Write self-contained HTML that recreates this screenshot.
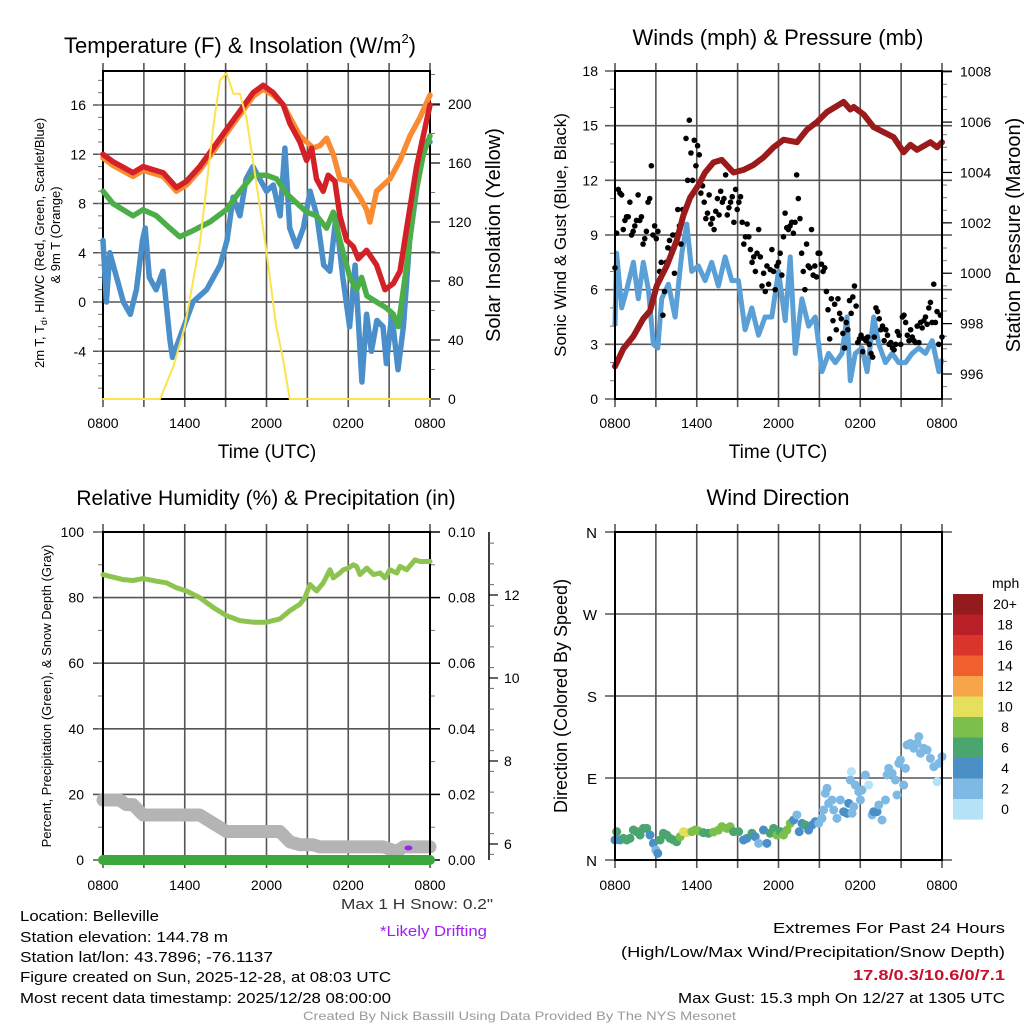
<!DOCTYPE html>
<html><head><meta charset="utf-8"><style>
html,body{margin:0;padding:0;background:#fff;}
svg{display:block;font-family:"Liberation Sans",sans-serif;}
</style></head><body>
<svg id="fig" width="1024" height="1024" viewBox="0 0 1024 1024" xmlns="http://www.w3.org/2000/svg">
<g id="layer"></g>
<g font-size="15" fill="#000">
<text x="20" y="921" textLength="139" lengthAdjust="spacingAndGlyphs">Location: Belleville</text>
<text x="20" y="942" textLength="208" lengthAdjust="spacingAndGlyphs">Station elevation: 144.78 m</text>
<text x="20" y="962" textLength="253" lengthAdjust="spacingAndGlyphs">Station lat/lon: 43.7896; -76.1137</text>
<text x="20" y="982" textLength="371" lengthAdjust="spacingAndGlyphs">Figure created on Sun, 2025-12-28, at 08:03 UTC</text>
<text x="20" y="1003" textLength="371" lengthAdjust="spacingAndGlyphs">Most recent data timestamp: 2025/12/28 08:00:00</text>
<text x="341" y="909" textLength="152" lengthAdjust="spacingAndGlyphs" fill="#333">Max 1 H Snow: 0.2"</text>
<text x="380" y="936" textLength="107" lengthAdjust="spacingAndGlyphs" fill="#a020f0">*Likely Drifting</text>
<text x="773" y="933" textLength="232" lengthAdjust="spacingAndGlyphs">Extremes For Past 24 Hours</text>
<text x="621" y="957" textLength="384" lengthAdjust="spacingAndGlyphs">(High/Low/Max Wind/Precipitation/Snow Depth)</text>
<text x="853" y="980" textLength="152" lengthAdjust="spacingAndGlyphs" fill="#c8102e" font-weight="bold">17.8/0.3/10.6/0/7.1</text>
<text x="678" y="1003" textLength="327" lengthAdjust="spacingAndGlyphs">Max Gust: 15.3 mph On 12/27 at 1305 UTC</text>
<text x="303" y="1020" font-size="12" textLength="433" lengthAdjust="spacingAndGlyphs" fill="#999">Created By Nick Bassill Using Data Provided By The NYS Mesonet</text>
</g>
</svg>
<script>
// ---------- DATA ----------
const tempT = [0,0.73,2.2,2.94,4.41,5.39,6.12,7.1,8.08,9.06,10.04,11.02,11.76,12.49,13.23,13.72,14.45,14.94,15.31,15.67,16.16,16.53,17.02,17.39,17.88,18.37,18.74,19.35,20.08,20.7,21.31,21.8,22.29,23.02,24];
const tempV = [12,11.4,10.5,11,10.5,9.3,9.8,11,12.5,14,15.5,17,17.6,17,16,14.5,13,11.5,12.5,10,9,10.3,9.8,7,5,4.5,3.5,4.2,3,1,1.5,2.5,6,11,16];
const t9T = [0,0.73,2.2,2.94,4.41,5.39,6.12,7.1,8.08,9.06,10.04,11.02,11.76,12.49,13.23,13.72,14.45,14.94,15.43,15.92,16.41,16.9,17.39,18.12,18.86,19.35,19.59,20.08,20.57,21.06,21.8,22.53,23.27,24];
const t9V = [11.7,11.1,10.2,10.7,10.2,9,9.5,10.7,12.2,13.7,15.2,16.7,17.3,16.8,16,15,13.5,13,12.5,12.7,13.3,12,10,9.8,8.5,7.5,6.5,9,9.5,10,11.5,13.5,15,16.8];
const dewT = [0,0.73,2.2,2.94,3.92,4.9,5.63,6.61,7.84,9.06,10.04,11.02,12,12.74,13.47,14.45,14.94,15.67,16.41,16.9,17.39,18.12,18.61,18.98,19.36,20.08,20.82,21.31,21.67,22.29,22.9,23.51,24];
const dewV = [9,8,7,7.5,7,6,5.3,5.8,6.5,7.5,9,10.3,10.3,10,8.8,7.8,7.3,7,6,7.3,5,2,1,2,0.5,0,-0.5,-1,-2,3,8.5,12,13.5];
const wcT = [0,0.25,0.5,1,1.5,2,2.45,2.9,3.1,3.4,3.9,4.4,4.9,5.1,5.6,6.1,6.6,7.1,7.6,8.1,8.6,9.1,9.55,10.05,10.5,11,11.5,12,12.5,13,13.35,13.7,14.2,14.7,15.2,15.7,16.2,16.65,17.1,17.6,18.1,18.5,19,19.35,19.7,20.1,20.55,20.8,21.2,21.65,22.05,22.5,23,23.4,24];
const wcV = [5,0,4,2,0,-1,1,5,6,2,1,2.5,-3,-4.5,-3,-1.5,0,0.5,1,2,3,5,8.5,7,10,11,10,9,9.5,7,12.5,6,4.5,6,9,7,3,2.5,7,2,-2,3,-6.5,-1,-4,-1.5,-2,-5,-1,-5.5,-2,5,9,13,13];
const solarT = [0,4.18,5.16,6,7.12,8.1,8.58,9.07,9.56,10.05,10.54,11.03,11.76,12,12.7,13.2,13.7,24];
const solarV = [0,0,22,49,106,185,216,221,207,207,190,160,115,100,50,28,0,0];
const presT = [0,0.61,1.35,2.08,2.57,3.06,3.8,4.53,5.02,5.51,6.12,6.61,7.23,7.84,8.7,9.43,10.17,10.9,11.64,12.37,13.35,14.09,14.82,15.56,16.78,17.27,17.52,18.25,18.98,19.72,20.45,21.19,21.68,22.17,23.15,23.64,24];
const presV = [996.3,997,997.5,998.2,998.5,999.5,1000.3,1001.3,1002.3,1003,1003.5,1004,1004.4,1004.5,1004,1004.1,1004.3,1004.6,1005,1005.3,1005.2,1005.7,1006,1006.4,1006.8,1006.5,1006.6,1006.3,1005.8,1005.6,1005.4,1004.8,1005.1,1004.9,1005.2,1005,1005.2];
const sonicT = [0,0.12,0.49,0.86,1.35,1.71,2.08,2.45,2.82,3.14,3.43,3.92,4.41,4.9,5.27,5.63,6.12,6.61,7.1,7.59,8.08,8.57,9.06,9.55,10.04,10.53,11.02,11.51,12,12.49,12.86,13.23,13.72,14.21,14.7,15.19,15.68,16.17,16.66,17.03,17.27,17.64,18.13,18.5,18.99,19.36,19.85,20.34,20.83,21.32,21.81,22.3,22.79,23.28,23.77,24];
const sonicV = [4,8,5,6,7.5,5.5,7.5,6,3,2.8,5.5,6.3,4.5,8,9.6,7,7.3,6.5,7.5,6.2,7.8,6.5,6.5,3.8,5,3.5,4.5,4.5,7,4.3,7.8,2.5,5.5,4,4.5,1.5,2.5,2,2.5,4.5,1,2.5,2.8,1.5,4.5,3,2,2.5,2,2,2.5,2.8,2.5,3.2,1.5,2.2];
const gustV = [7.2,9.1,11.5,11.3,11.2,9.3,9.8,10,10,10.8,9,9.2,9.5,9.8,11.2,9.8,10,8.5,8.8,9.2,10.8,11,12.8,9,9.5,8.8,9.2,7,7.5,4.6,5.9,7.5,8.3,8.7,8.2,9,6.9,9,10.4,9.5,8.5,10.4,10.2,14.3,12,15.3,13.5,12,14.2,12.8,13.9,13.4,11.3,11.7,10.8,9.9,10.2,11.2,9.6,9.9,9.3,10.3,11,10.1,11.4,10.8,11,12.3,10.1,10.5,10.8,11.1,9.7,11.5,10.4,10.8,11.1,9.7,8.5,8.9,9.6,8.9,8.2,7.5,7.8,7,8,9.3,7.8,6.2,6.9,5.9,7.3,6.3,7.1,8.2,7,6,7.3,7.5,8,6.8,8.9,10.2,9.4,9.3,9.5,9.7,9.1,9.7,12.3,11,9.9,8,7,6,8.5,7.3,7.2,9.3,6.8,7.3,6.7,8,8,7.4,7,7.2,5.9,4.9,3.3,5.5,4.3,5.2,3.8,5.5,4.7,4.4,3.6,2.8,4.2,3.8,5.4,4.7,5.6,6.2,5.1,3.1,3.3,3.5,2.6,3.3,3.2,3.4,3,2.5,2.3,3.4,5,4.8,4.4,3.8,4,3.2,3.8,3.5,3,3.1,2.8,2.7,3,3.7,3.5,3,4.5,4.6,4.2,3.5,3.2,3.8,3.4,3.2,3.1,4,3.1,4.2,3.9,4.3,4.5,4.1,5,5.3,4.2,6.3,4.2,4.8,3,4.6,3.4];
const rhT = [0,0.49,1.47,2.2,2.94,3.92,4.65,5.39,6.12,7.1,8.08,9.06,10.04,11.02,12,12.98,13.72,14.45,14.82,15.19,15.68,16.17,16.66,16.9,17.39,17.64,18.01,18.37,18.61,18.86,19.36,19.85,20.34,20.7,21.06,21.56,21.8,22.29,22.9,23.27,24];
const rhV = [87,86.5,85.5,85.2,85.8,85,84.5,83,82,80,77,74.5,73,72.5,72.5,73.5,76,78,80,84,82,84.5,88.5,86,87.5,88.5,89,90,89.5,87,89,87,87.5,86,88.5,87.5,89.5,88.5,91.5,91,91];
const snowT = [0,1.22,1.71,2.2,2.94,7.1,7.84,9.06,12.98,13.72,14.45,15.43,15.92,20.57,21.56,22.05,24];
const snowV = [7.06,7.06,6.95,6.95,6.7,6.7,6.55,6.3,6.3,6.05,5.98,5.98,5.93,5.93,5.82,5.93,5.93];
const precipT = [0,24];
const precipV = [0,0];
const dirT = [0,0.12,0.37,0.61,0.86,1.1,1.35,1.59,1.84,2.08,2.33,2.57,2.82,2.99,3.14,3.31,3.55,3.8,4.04,4.29,4.53,4.78,5.02,5.27,5.64,5.88,6.13,6.49,6.86,7.23,7.6,7.84,8.21,8.45,8.7,9.07,9.43,9.68,10.05,10.29,10.54,10.9,11.15,11.39,11.64,11.88,12.13,12.37,12.62,12.86,13.11,13.35,13.52,13.72,13.97,14.21,14.46,14.7,14.95,15.19,15.31,15.44,15.56,15.68,15.93,16.05,16.29,16.54,16.78,17.03,17.15,17.27,17.35,17.4,17.52,17.64,17.89,18.01,18.13,18.38,18.62,18.87,18.99,19.23,19.36,19.6,19.85,19.97,20.09,20.34,20.58,20.7,20.83,20.95,21.19,21.32,21.44,21.68,21.93,22.17,22.3,22.42,22.66,22.91,23.15,23.4,23.64,23.77,24];
const dirV = [22,31.1,22,23.8,22,23.8,32.9,31.1,27.4,34.7,34.7,27.4,18.3,11,7.3,22,29.3,27.4,23.8,22,20,25.6,31.1,30,31.1,32.9,31.8,30,29.3,30.7,32.9,36.6,34.7,36.6,31.1,31.1,22,23.8,29.3,25.6,18.3,32.9,18.3,29.3,34.7,27.4,31.1,27.4,32.9,40.2,43.9,49.4,31.1,40.2,38.4,32.9,38.4,42.1,40.2,45.7,54.9,73.2,78.7,62.2,65.9,54.9,45.7,65.9,53,51.2,62.2,87.8,97,51.2,58.5,82.3,75,65.9,76.8,93.3,82.3,49.4,53,53,60.4,43.9,65.9,93.3,100.6,95.1,87.8,71.4,106.1,109.8,82.3,100.6,126.2,128,122.6,128,135.4,117.1,122.6,120.7,111.6,102.4,86,106.1,113.4];
const dirSpd = [4,6,4,6,6,6,6,6,6,6,6,4,4,2,4,6,6,6,6,6,6,8,10,10,8,8,8,6,6,8,8,8,8,8,6,6,4,4,6,4,2,4,4,6,6,8,6,8,8,8,4,2,4,4,6,4,4,4,2,2,2,2,2,2,2,2,2,2,4,4,4,2,0,2,2,2,2,2,2,2,0,2,4,4,2,2,2,2,2,2,2,2,2,2,2,2,2,2,2,2,2,2,2,2,2,2,0,2,2];
const legendLabels = ["20+","18","16","14","12","10","8","6","4","2","0"];
const legendColors = ["#931a1d","#b91f27","#d9352a","#ef602e","#f6a54a","#e5e05c","#7cbf4a","#4aa56f","#4a8fc6","#7eb9e4","#b5e2f6"];

// ---------- DRAWING ----------
const NS = "http://www.w3.org/2000/svg";
const root = document.getElementById('layer');
function mk(tag, attrs, parent){ const e=document.createElementNS(NS,tag); for(const k in attrs) e.setAttribute(k,attrs[k]); (parent||root).appendChild(e); return e; }
function lin(d0,d1,r0,r1){ return v => r0 + (v-d0)/(d1-d0)*(r1-r0); }
function poly(xs, ys, xf, yf){ return xs.map((t,i)=>xf(t).toFixed(1)+','+yf(ys[i]).toFixed(1)).join(' '); }

const timeLabels = ["0800","1400","2000","0200","0800"];
function frame(p, g, leftTicks, leftMinor, rightTicks, rightMinor, yl, yr, labelY){
  for(let h=0; h<=24; h+=3){ const x=p.xf(h);
    const gl = mk('line',{x1:x,x2:x,y1:p.y0-8,y2:p.y1+8,stroke:'#555','stroke-width':1.6},g);
    
    
  }
  leftTicks.forEach(v=>{ const y=yl(v);
    const gl = mk('line',{x1:p.x0-10,x2:p.x1+10,y1:y,y2:y,stroke:'#555','stroke-width':1.6},g);
    
    
  });
  leftMinor.forEach(v=>{ const y=yl(v); mk('line',{x1:p.x0-5,x2:p.x0,y1:y,y2:y,stroke:'#777','stroke-width':1},g); });
  if(yr){ rightMinor.forEach(v=>{ const y=yr(v); mk('line',{x1:p.x1,x2:p.x1+5,y1:y,y2:y,stroke:'#777','stroke-width':1},g); });
    rightTicks.forEach(v=>{ const y=yr(v); mk('line',{x1:p.x1,x2:p.x1+10,y1:y,y2:y,stroke:'#000','stroke-width':1.2},g); }); }
  timeLabels.forEach((s,i)=>{ const tl=mk('text',{x:p.xf(i*6),y:labelY,'text-anchor':'middle','font-size':14},g); tl.textContent=s;
    
    
  });
}
function border(p,g){ const b=mk('rect',{x:p.x0,y:p.y0,width:p.x1-p.x0,height:p.y1-p.y0,fill:'none',stroke:'#000','stroke-width':2},g);
    }
function label(g,txt,x,y,opts,name){ const t=mk('text',Object.assign({x:x,y:y},opts),g); t.textContent=txt;
    return t; }
function range(a,b,s){ const r=[]; for(let v=a; v<=b+1e-9; v+=s) r.push(+v.toFixed(4)); return r; }

// ===== Panel 1: Temperature =====
{
  const g = mk('g',{});  
  const p={x0:103,x1:430,y0:71,y1:399}; p.xf=lin(0,24,p.x0,p.x1);
  const yl=lin(0,16,302,105), yr=lin(0,200,399,104);
  frame(p,g,[-4,0,4,8,12,16],range(-7,18,1),[0,40,80,120,160,200],range(0,220,20),yl,yr,428);
  [-4,0,4,8,12,16].forEach(v=>label(g,String(v),86,yl(v)+5,{'text-anchor':'end','font-size':14},'left-tick-label'));
  [0,40,80,120,160,200].forEach(v=>label(g,String(v),448,yr(v)+5,{'font-size':14},'right-tick-label'));
  border(p,g);
  const add=(xs,ys,yf,c,w,n)=>{ const e=mk('polyline',{points:poly(xs,ys,p.xf,yf),fill:'none',stroke:c,'stroke-width':w,'stroke-linejoin':'round','stroke-linecap':'round'},g);   };
  add(wcT,wcV,yl,'#4a8fc9',5.5,'windchill-line');
  add(dewT,dewV,yl,'#4cae48',5.5,'dewpoint-line');
  add(t9T,t9V,yl,'#f98c32',5.5,'temp-9m-line');
  add(tempT,tempV,yl,'#d42027',5.5,'temp-2m-line');
  add(solarT,solarV,yr,'#fde34e',2,'solar-line');
  const tt=label(g,'Temperature (F) & Insolation (W/m',64,53,{'font-size':22},'temperature-title');
  const sup=mk('tspan',{'font-size':13,dy:-10},tt); sup.textContent='2';
  const cl=mk('tspan',{'font-size':22,dy:10},tt); cl.textContent=')';
  label(g,'Time (UTC)',267,458,{'text-anchor':'middle','font-size':19},'x-axis-title');
  const yt=label(g,'2m T, T',0,0,{'font-size':13,transform:'translate(44,368) rotate(-90)'},'y-axis-title');
  const sub=mk('tspan',{'font-size':9,dy:3},yt); sub.textContent='d';
  const t2=mk('tspan',{dy:-3},yt); t2.textContent=', HI/WC (Red, Green, Scarlet/Blue)';
  label(g,'& 9m T (Orange)',0,0,{'font-size':13,'text-anchor':'middle',transform:'translate(60,235) rotate(-90)'},'y-axis-title-2');
  label(g,'Solar Insolation (Yellow)',0,0,{'font-size':20,'text-anchor':'middle',transform:'translate(500,235) rotate(-90)'},'right-axis-title');
}
// ===== Panel 2: Winds =====
{
  const g = mk('g',{});  
  const p={x0:615,x1:942,y0:71,y1:399}; p.xf=lin(0,24,p.x0,p.x1);
  const yl=lin(0,18,399,71), yr=lin(996,1008,374,71.7);
  frame(p,g,[0,3,6,9,12,15,18],range(0,18,1),[996,998,1000,1002,1004,1006,1008],range(995,1008,0.5),yl,yr,428);
  [0,3,6,9,12,15,18].forEach(v=>label(g,String(v),598,yl(v)+5,{'text-anchor':'end','font-size':14},'left-tick-label'));
  [996,998,1000,1002,1004,1006,1008].forEach(v=>label(g,String(v),960,yr(v)+5,{'font-size':14},'right-tick-label'));
  const e1=mk('polyline',{points:poly(sonicT,sonicV,p.xf,yl),fill:'none',stroke:'#5a9fd6','stroke-width':5,'stroke-linejoin':'round'},g);
   
  gustV.forEach((v,i)=>{ const t=i*24/(gustV.length-1);
    const c=mk('circle',{cx:p.xf(t),cy:yl(v),r:2.8,fill:'#000'},g);
    
    
  });
  const e2=mk('polyline',{points:poly(presT,presV,p.xf,yr),fill:'none',stroke:'#9b1a1c','stroke-width':6,'stroke-linejoin':'round','stroke-linecap':'round'},g);
   
  border(p,g);
  label(g,'Winds (mph) & Pressure (mb)',778,45,{'text-anchor':'middle','font-size':22},'winds-title');
  label(g,'Time (UTC)',778,458,{'text-anchor':'middle','font-size':19},'x-axis-title');
  label(g,'Sonic Wind & Gust (Blue, Black)',0,0,{'font-size':17,'text-anchor':'middle',transform:'translate(566,235) rotate(-90)'},'left-axis-title');
  label(g,'Station Pressure (Maroon)',0,0,{'font-size':20,'text-anchor':'middle',transform:'translate(1020,235) rotate(-90)'},'right-axis-title');
}
// ===== Panel 3: RH =====
{
  const g = mk('g',{});  
  const p={x0:103,x1:430,y0:532,y1:860}; p.xf=lin(0,24,p.x0,p.x1);
  const yl=lin(0,100,860,532), yr=lin(0,0.1,860,532), ys=lin(6,12,844,595);
  frame(p,g,[0,20,40,60,80,100],range(0,100,10),[0,0.02,0.04,0.06,0.08,0.1],range(0,0.1,0.01),yl,yr,890);
  [0,20,40,60,80,100].forEach(v=>label(g,String(v),84,yl(v)+5,{'text-anchor':'end','font-size':14},'left-tick-label'));
  [0,0.02,0.04,0.06,0.08,0.1].forEach(v=>label(g,v.toFixed(2),448,yr(v)+5,{'font-size':14},'right-tick-label'));
  const ax=mk('line',{x1:489,x2:489,y1:532,y2:860,stroke:'#000','stroke-width':1.5},g);
   
  range(5.75,13.5,0.5).forEach(v=>{ const y=ys(v); if(y>=532&&y<=860) mk('line',{x1:489,x2:494,y1:y,y2:y,stroke:'#666','stroke-width':1},g); });
  [6,8,10,12].forEach(v=>{ mk('line',{x1:489,x2:498,y1:ys(v),y2:ys(v),stroke:'#000','stroke-width':1.2},g);
    label(g,String(v),504,ys(v)+5,{'font-size':14},'snow-tick-label'); });
  const sn=mk('polyline',{points:poly(snowT,snowV,p.xf,ys),fill:'none',stroke:'#b4b4b4','stroke-width':13,'stroke-linejoin':'round','stroke-linecap':'round'},g);
   
  const dr=mk('ellipse',{cx:p.xf(22.42),cy:848,rx:4,ry:2.5,fill:'#a020f0'},g);
   
  border(p,g);
  const pr=mk('polyline',{points:poly(precipT,precipV,p.xf,yr),fill:'none',stroke:'#3ca83c','stroke-width':10,'stroke-linecap':'round'},g);
   
  const rh=mk('polyline',{points:poly(rhT,rhV,p.xf,yl),fill:'none',stroke:'#8dc44f','stroke-width':5,'stroke-linejoin':'round','stroke-linecap':'round'},g);
   
  label(g,'Relative Humidity (%) & Precipitation (in)',266,505,{'text-anchor':'middle','font-size':21},'humidity-title');
  label(g,'Percent, Precipitation (Green), & Snow Depth (Gray)',0,0,{'font-size':13,'text-anchor':'middle',transform:'translate(51,696) rotate(-90)'},'left-axis-title');
}
// ===== Panel 4: Wind Direction =====
{
  const g = mk('g',{});  
  const p={x0:615,x1:942,y0:532,y1:860}; p.xf=lin(0,24,p.x0,p.x1);
  const yl=lin(0,360,860,532);
  frame(p,g,[0,90,180,270,360],[],[],[],yl,null,890);
  ["N","E","S","W","N"].forEach((s,i)=>label(g,s,597,yl(i*90)+6,{'text-anchor':'end','font-size':15},'direction-tick-label'));
  const col=s=>legendColors[10-Math.min(10,Math.floor(s/2))];
  dirT.forEach((t,i)=>{ const c=mk('circle',{cx:p.xf(t),cy:yl(dirV[i]),r:4.5,fill:col(dirSpd[i])},g);
    
     });
  border(p,g);
  label(g,'Wind Direction',778,505,{'text-anchor':'middle','font-size':22},'wind-direction-title');
  label(g,'Direction (Colored By Speed)',0,0,{'font-size':18,'text-anchor':'middle',transform:'translate(567,696) rotate(-90)'},'left-axis-title');
  const lg=mk('g',{},g);  
  label(lg,'mph',992,588,{'font-size':14},'legend-title');
  legendLabels.forEach((s,i)=>{ const y=594+i*20.5;
    const r=mk('rect',{x:953,y:y,width:30,height:20.6,fill:legendColors[i]},lg);
    
    
    label(lg,s,1005,y+15,{'text-anchor':'middle','font-size':14},'legend-label');
  });
}
</script>
</body></html>
